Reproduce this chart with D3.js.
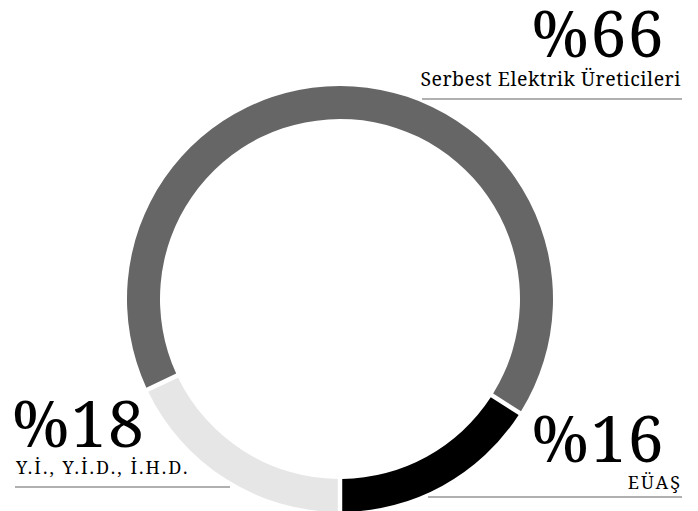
<!DOCTYPE html>
<html>
<head>
<meta charset="utf-8">
<script src="https://cdn.jsdelivr.net/npm/d3@7"></script>
<style>
  html, body { margin: 0; padding: 0; background: #fff; }
  svg { display: block; }
</style>
</head>
<body>
<div id="chart"></div>
<script>
// data
const categories = ["Y.İ., Y.İ.D., İ.H.D.", "Serbest Elektrik Üreticileri", "EÜAŞ"];
const values = [18, 66, 16];
const colors = ["#e6e6e6", "#666666", "#000000"];

const width = 698;
const height = 511;
const cx = 340;
const cy = 299;
const outerR = 213;
const innerR = 180;
const serif = "Noto Serif";

const svg = d3.select("#chart")
    .append("svg")
    .attr("width", width)
    .attr("height", height);

const pie = d3.pie()
    .sort(null)
    .value(d => d)
    .startAngle(Math.PI)
    .endAngle(3 * Math.PI);

const arc = d3.arc()
    .innerRadius(innerR)
    .outerRadius(outerR)
    .padAngle(0.016);

const ring = svg.append("g")
    .attr("transform", `translate(${cx}, ${cy})`);

ring.selectAll("path")
    .data(pie(values))
    .enter().append("path")
    .attr("d", arc)
    .attr("fill", (d, i) => colors[i]);

// label blocks (layout only, text comes from the arrays)
const labelPos = [
    { numX: 12, labX: 16, anchor: "start", numY: 447, labY: 474, lineX1: 15, lineX2: 230, lineY: 487, labSize: 18, ls: 2 },
    { numX: 665, labX: 681, anchor: "end", numY: 57, labY: 86, lineX1: 422, lineX2: 682, lineY: 99, labSize: 19.5, ls: 0.5 },
    { numX: 665, labX: 682, anchor: "end", numY: 462, labY: 489, lineX1: 428, lineX2: 682, lineY: 497, labSize: 18, ls: 2 }
];

const labels = svg.selectAll(".lbl")
    .data(categories)
    .enter().append("g")
    .attr("class", "lbl");

labels.append("line")
    .attr("x1", (d, i) => labelPos[i].lineX1)
    .attr("x2", (d, i) => labelPos[i].lineX2)
    .attr("y1", (d, i) => labelPos[i].lineY)
    .attr("y2", (d, i) => labelPos[i].lineY)
    .attr("stroke", "#b0b0b0")
    .attr("stroke-width", 2);

labels.append("text")
    .attr("x", (d, i) => labelPos[i].numX)
    .attr("y", (d, i) => labelPos[i].numY)
    .attr("text-anchor", (d, i) => labelPos[i].anchor)
    .attr("font-family", serif)
    .attr("font-size", 64)
    .attr("letter-spacing", 1.5)
    .attr("fill", "#000")
    .text((d, i) => "%" + values[i]);

labels.append("text")
    .attr("x", (d, i) => labelPos[i].labX)
    .attr("y", (d, i) => labelPos[i].labY)
    .attr("text-anchor", (d, i) => labelPos[i].anchor)
    .attr("font-family", serif)
    .attr("font-size", (d, i) => labelPos[i].labSize)
    .attr("letter-spacing", (d, i) => labelPos[i].ls)
    .attr("fill", "#000")
    .text(d => d);
</script>
</body>
</html>
